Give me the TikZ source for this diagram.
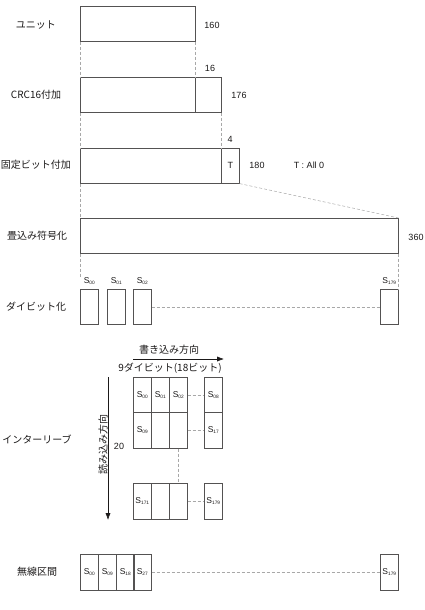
\documentclass[tikz,border=0pt]{standalone}
\usepackage{fontspec}
\setmainfont{Liberation Sans}
\newfontfamily\jp{Noto Sans CJK JP}
\usepackage{xcolor}
\usetikzlibrary{positioning,arrows.meta}
\definecolor{ink}{HTML}{1B1919}
\definecolor{sGray}{HTML}{A8A8A8}
\newcommand{\sym}[1]{S\raisebox{-1.3pt}{\fontsize{4.8}{5}\selectfont #1}}
\tikzset{
  lbl/.style={font=\jp\fontsize{10}{11}\selectfont, text=ink, inner sep=0pt},
  num/.style={font=\fontsize{9}{10}\selectfont, text=ink, inner sep=0pt},
}

\begin{document}
\begin{tikzpicture}[x=1pt, y=-1pt,
  bar/.style={draw=ink!75, line width=0.6pt, anchor=north west, minimum height=35pt, inner sep=0pt, font=\fontsize{8.5}{9}\selectfont, text=ink},
  cell/.style={bar, minimum width=18pt},
  sl/.style={font=\fontsize{8.5}{9}\selectfont, text=ink, inner sep=0pt},
  gap/.style={draw=sGray, dash pattern=on 3pt off 2pt, line width=0.5pt},
  arr/.style={-{Latex[length=2.4mm, width=1.8mm]}, line width=0.6pt, ink}]
\useasboundingbox (0,0) rectangle (425,610);
% row labels
\node[lbl] (tUnit) at (36,25) {ユニット};
\node[lbl] (tCrc) at (36,95) {CRC16付加};
\node[lbl] (tFix) at (36,165) {固定ビット付加};
\node[lbl] (tConv) at (37,236) {畳込み符号化};
\node[lbl] (tDibit) at (36,307) {ダイビット化};
\node[lbl] (tInter) at (37,439) {インターリーブ};
\node[lbl] (tAir) at (37,572) {無線区間};
% unit, crc, tail, convolution
\node[bar, minimum width=115pt] (unit) at (80,6) {};
\node[bar, minimum width=115pt] (crcA) at (80,77) {};
\node[bar, minimum width=26pt] (crcB) at (195,77) {};
\node[bar, minimum width=141pt] (fixA) at (80,148) {};
\node[cell, font=\fontsize{9}{10}\selectfont] (fixT) at (221,148) {T};
\node[bar, minimum width=318pt] (conv) at (80,218) {};
\node[num] (n160) at (212,25) {160};
\node[num] (n16) at (210,68) {16};
\node[num] (n176) at (239,95) {176};
\node[num] (n4) at (230,139) {4};
\node[num] (n180) at (257,165) {180};
\node[num] (nAll) at (309,165) {T : All 0};
\node[num] (n360) at (416,237) {360};
\draw[gap] (unit.south west) -- (crcA.north west);
\draw[gap] (unit.south east) -- (crcA.north east);
\draw[gap] (crcA.south west) -- (fixA.north west);
\draw[gap] (crcB.south east) -- (fixA.north east);
\draw[gap] (fixA.south west) -- (conv.north west);
\draw[gap] (fixT.south east) -- (conv.north east);
% dibits
\node[cell] (d00) at (80,289) {};
\node[cell] (d01) at (107,289) {};
\node[cell] (d02) at (133,289) {};
\node[cell] (d179) at (380,289) {};
\node[sl, above=4pt of d00] (l00) {\sym{00}};
\node[sl, above=4pt of d01] (l01) {\sym{01}};
\node[sl, above=4pt of d02] (l02) {\sym{02}};
\node[sl, above=4pt of d179] (l179) {\sym{179}};
\draw[gap] (conv.south west) -- (conv.south west |- l00.north);
\draw[gap] (conv.south east) -- (d179.north east);
\draw[gap] (d02.east) -- (d179.west);
% interleaver
\coordinate (wa) at (133,359);
\coordinate (wb) at (224,359);
\draw[arr] (wa) -- (wb);
\node[lbl] (tWrite) at (169,350) {書き込み方向};
\node[lbl] (tWidth) at (170,368) {9ダイビット(18ビット)};
\coordinate (ra) at (108,377);
\coordinate (rb) at (108,520);
\draw[arr] (ra) -- node[lbl, rotate=90, above=5pt, pos=0.51] (tRead) {読み込み方向} (rb);
\node[num] (n20) at (119,446) {20};
\node[cell] (g00) at (133,377) {\sym{00}};
\node[cell] (g01) at (151,377) {\sym{01}};
\node[cell] (g02) at (169,377) {\sym{02}};
\node[cell] (g08) at (204,377) {\sym{08}};
\node[cell, minimum height=36pt] (g10) at (133,412) {\sym{09}};
\node[cell, minimum height=36pt] (g11) at (151,412) {};
\node[cell, minimum height=36pt] (g12) at (169,412) {};
\node[cell, minimum height=36pt] (g18) at (204,412) {\sym{17}};
\node[cell, minimum height=36pt] (g20) at (133,483) {\sym{171}};
\node[cell, minimum height=36pt] (g21) at (151,483) {};
\node[cell, minimum height=36pt] (g22) at (169,483) {};
\node[cell, minimum height=36pt] (g28) at (204,483) {\sym{179}};
\draw[gap] (g02.east) -- (g08.west);
\draw[gap] (g12.east) -- (g18.west);
\draw[gap] (g12.south) -- (g22.north);
\draw[gap] (g22.east) -- (g28.west);
% air interface
\node[cell, minimum height=36pt] (w00) at (80,554) {\sym{00}};
\node[cell, minimum height=36pt] (w09) at (98,554) {\sym{09}};
\node[cell, minimum height=36pt] (w18) at (116,554) {\sym{18}};
\node[cell, minimum height=36pt] (w27) at (133,554) {\sym{27}};
\node[cell, minimum height=36pt] (w179) at (380,554) {\sym{179}};
\draw[gap] (w27.east) -- (w179.west);
\end{tikzpicture}
\end{document}
